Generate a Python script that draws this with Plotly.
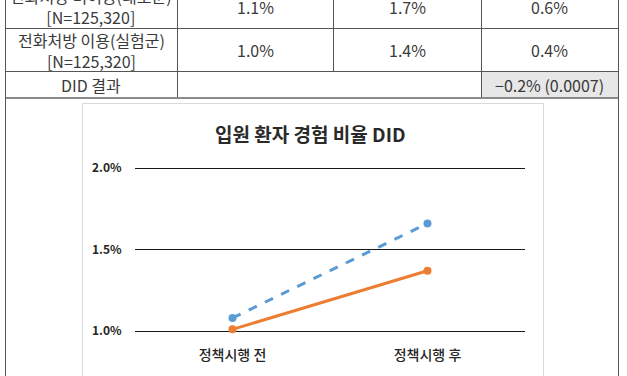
import plotly.graph_objects as go

# ---- data ----
periods = ["정책시행 전", "정책시행 후"]
control_vals = [1.08, 1.66]     # 전화처방 미이용(대조군) - blue dashed
treat_vals = [1.01, 1.37]       # 전화처방 이용(실험군) - orange solid
y_ticks = [1.0, 1.5, 2.0]
y_tick_labels = ["1.0%", "1.5%", "2.0%"]

table_rows = [
    ["전화처방 미이용(대조군)<br>[N=125,320]", "1.1%", "1.7%", "0.6%"],
    ["전화처방 이용(실험군)<br>[N=125,320]", "1.0%", "1.4%", "0.4%"],
]
did_label = "DID 결과"
did_value = "−0.2% (0.0007)"
chart_title = "입원 환자 경험 비율 DID"

W, H = 627, 376
FONT = "Noto Sans CJK KR"


def px(x):
    return x / W


def py(y):
    return 1 - y / H


fig = go.Figure()
fig.add_trace(go.Scatter(
    x=periods, y=control_vals, mode="lines+markers",
    line=dict(color="#5B9BD5", width=3, dash="dash"),
    marker=dict(color="#5B9BD5", size=8),
    cliponaxis=False, showlegend=False, hoverinfo="skip"))
fig.add_trace(go.Scatter(
    x=periods, y=treat_vals, mode="lines+markers",
    line=dict(color="#ED7D31", width=3),
    marker=dict(color="#ED7D31", size=8),
    cliponaxis=False, showlegend=False, hoverinfo="skip"))

shapes = []
LC = "#555555"
# gray DID cell
shapes.append(dict(type="rect", xref="paper", yref="paper",
                   x0=px(481), x1=px(618), y0=py(97), y1=py(71),
                   fillcolor="#e7e7e7", line=dict(width=0), layer="below"))
# chart inner box
shapes.append(dict(type="rect", xref="paper", yref="paper",
                   x0=px(82.5), x1=px(543.5), y0=py(380), y1=py(103.5),
                   fillcolor="rgba(0,0,0,0)", line=dict(color="#d9d9d9", width=1),
                   layer="below"))
# horizontal table lines
for yy in [28.5, 71.5]:
    shapes.append(dict(type="line", xref="paper", yref="paper",
                       x0=px(5), x1=px(618), y0=py(yy), y1=py(yy),
                       line=dict(color=LC, width=1)))
shapes.append(dict(type="line", xref="paper", yref="paper",
                   x0=px(5), x1=px(618), y0=py(98), y1=py(98),
                   line=dict(color="#8a8a8a", width=2)))
# vertical table lines
for xx, y0, y1 in [(5.5, -5, 380), (618.5, -5, 380), (177.5, -5, 97),
                   (481.5, -5, 97), (333.5, -5, 71)]:
    shapes.append(dict(type="line", xref="paper", yref="paper",
                       x0=px(xx), x1=px(xx), y0=py(y0), y1=py(y1),
                       line=dict(color=LC, width=1)))

TXT = dict(family=FONT, size=16, color="#3a3a3a")
annotations = []
col_centers = [91, 255, 407, 549.5]
row_centers = [7, 50]
for r, row in enumerate(table_rows):
    for c, txt in enumerate(row):
        annotations.append(dict(
            x=px(col_centers[c]), y=py(row_centers[r]), xref="paper", yref="paper",
            text=txt, showarrow=False, xanchor="center", yanchor="middle",
            font=TXT, align="center"))
annotations.append(dict(x=px(91), y=py(84.5), xref="paper", yref="paper",
                        text=did_label, showarrow=False,
                        xanchor="center", yanchor="middle", font=TXT))
annotations.append(dict(x=px(549.5), y=py(84.5), xref="paper", yref="paper",
                        text=did_value, showarrow=False,
                        xanchor="center", yanchor="middle", font=TXT))
annotations.append(dict(x=px(310), y=py(133), xref="paper", yref="paper",
                        text="<b>" + chart_title + "</b>", showarrow=False,
                        xanchor="center", yanchor="middle",
                        font=dict(family=FONT, size=19, color="#2a2a2a")))

# y range padded slightly so the 1.0% / 2.0% gridlines are not clipped
PPU = 163.0  # pixels per 1 percentage point
PAD = 0.02
fig.update_layout(
    width=W, height=H,
    margin=dict(l=0, r=0, t=0, b=0, pad=0, autoexpand=False),
    paper_bgcolor="white", plot_bgcolor="white",
    shapes=shapes, annotations=annotations,
    xaxis=dict(domain=[px(135), px(525)], range=[-0.5, 1.5], automargin=False,
               showgrid=False, showline=False, zeroline=False,
               ticks="outside", ticklen=8, tickcolor="rgba(0,0,0,0)",
               tickfont=dict(family=FONT, size=14, color="#262626", weight=500)),
    yaxis=dict(domain=[py(331 + PAD * PPU), py(168 - PAD * PPU)],
               range=[1.0 - PAD, 2.0 + PAD], automargin=False,
               tickvals=y_ticks, ticktext=y_tick_labels,
               showgrid=True, gridcolor="#1a1a1a", gridwidth=1,
               showline=False, zeroline=False,
               ticks="outside", ticklen=10, tickcolor="rgba(0,0,0,0)",
               tickfont=dict(family=FONT, size=12, color="#262626", weight="bold")),
)

fig.write_html("out.html",
               config={"displayModeBar": False, "staticPlot": True},
               post_script="document.body.style.margin='0';document.body.style.overflow='hidden';")
